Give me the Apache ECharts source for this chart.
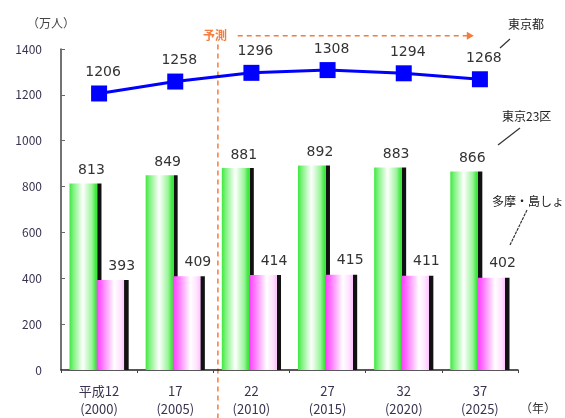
<!DOCTYPE html>
<html>
<head>
<meta charset="utf-8">
<script src="https://cdn.jsdelivr.net/npm/echarts@6/dist/echarts.min.js"></script>
<style>
  html, body { margin: 0; padding: 0; background: #fff; }
  #chart { width: 565px; height: 418px; }
</style>
</head>
<body>
<div id="chart"></div>
<script>
// 年（和暦＋西暦）
var categories = ["平成12\n(2000)", "17\n(2005)", "22\n(2010)", "27\n(2015)", "32\n(2020)", "37\n(2025)"];
// 東京都 合計（万人）
var tokyoTotal = [1206, 1258, 1296, 1308, 1294, 1268];
// 東京23区
var ku23 = [813, 849, 881, 892, 883, 866];
// 多摩・島しょ
var tamaIslands = [393, 409, 414, 415, 411, 402];
var yTicks = { min: 0, max: 1400, interval: 200 };
// 予測区間（カテゴリ単位の位置）
var forecastStart = 2.06;
var forecastArrow = [2.32, 5.42];

var font = '"Noto Sans CJK JP", "DejaVu Sans", sans-serif';
var orange = "#f47c3c";
var numStyle = { color: "#333", fontSize: 14, fontFamily: "DejaVu Sans" };

var myChart = echarts.init(document.getElementById("chart"));

myChart.setOption({
	animation: false,
	textStyle: { fontFamily: font },
	grid: { left: 61, right: 47, top: 49, bottom: 47 },
	xAxis: [
		{
			type: "category",
			data: categories,
			axisLine: { lineStyle: { color: "#222", width: 1.5 } },
			axisTick: { show: true, length: 3, lineStyle: { color: "#444" } },
			axisLabel: { color: "#3a3350", fontSize: 13, lineHeight: 18, margin: 12 },
			name: "（年）",
			nameLocation: "end",
			nameGap: 2,
			nameTextStyle: { color: "#333", fontSize: 12, verticalAlign: "top", padding: [32, 0, 0, 0] },
		},
		{
			// 補助軸：予測区分線の位置用
			type: "value",
			min: 0,
			max: 6,
			show: false,
		},
	],
	yAxis: {
		type: "value",
		min: yTicks.min,
		max: yTicks.max,
		interval: yTicks.interval,
		splitLine: { show: false },
		axisLine: { show: true, lineStyle: { color: "#444", width: 1.5 } },
		axisTick: { show: true, inside: true, length: 4, lineStyle: { color: "#666" } },
		axisLabel: {
			color: "#3a3350",
			fontSize: 12,
			margin: 19,
			formatter: function (v) {
				return String(v);
			},
		},
		name: "（万人）",
		nameLocation: "end",
		nameGap: 20,
		nameTextStyle: { color: "#444", fontSize: 12, align: "right", padding: [0, -14, 0, 0] },
	},
	series: [
		{
			name: "東京23区",
			type: "bar",
			data: ku23,
			barWidth: 32,
			barGap: "-15%",
			itemStyle: {
				color: new echarts.graphic.LinearGradient(0, 0, 1, 0, [
					{ offset: 0, color: "#3ee83e" },
					{ offset: 0.12, color: "#7ef27e" },
					{ offset: 0.42, color: "#ffffff" },
					{ offset: 0.7, color: "#9af59a" },
					{ offset: 0.82, color: "#3ee83e" },
					{ offset: 0.87, color: "#3ee83e" },
					{ offset: 0.88, color: "#111" },
					{ offset: 1, color: "#111" },
				]),
			},
			label: Object.assign({ show: true, position: "top", distance: 6, offset: [6, 0] }, numStyle),
		},
		{
			name: "多摩・島しょ",
			type: "bar",
			data: tamaIslands,
			barWidth: 32,
			z: 3,
			itemStyle: {
				color: new echarts.graphic.LinearGradient(0, 0, 1, 0, [
					{ offset: 0, color: "#ff3cff" },
					{ offset: 0.15, color: "#ff6cff" },
					{ offset: 0.55, color: "#ffffff" },
					{ offset: 0.75, color: "#ffe2ff" },
					{ offset: 0.84, color: "#ffc8ff" },
					{ offset: 0.86, color: "#ffc8ff" },
					{ offset: 0.87, color: "#111" },
					{ offset: 1, color: "#111" },
				]),
			},
			label: Object.assign({ show: true, position: "top", distance: 7, offset: [9, 0] }, numStyle),
		},
		{
			name: "東京都",
			type: "line",
			data: tokyoTotal,
			z: 5,
			symbol: "rect",
			symbolSize: 16,
			lineStyle: { color: "#0000ff", width: 3 },
			itemStyle: { color: "#0000ff" },
			label: Object.assign({ show: true, position: "top", distance: 6, offset: [4, 0] }, numStyle),
		},
	],
});

// 予測区分の破線・矢印（補助軸の位置から計算）
var lineTop = myChart.convertToPixel({ xAxisIndex: 1, yAxisIndex: 0 }, [forecastStart, 1420]);
var arrowA = myChart.convertToPixel({ xAxisIndex: 1, yAxisIndex: 0 }, [forecastArrow[0], 1458]);
var arrowB = myChart.convertToPixel({ xAxisIndex: 1, yAxisIndex: 0 }, [forecastArrow[1], 1458]);
var dash = { stroke: orange, lineWidth: 1.5, lineDash: [5, 4] };

myChart.setOption({
	graphic: [
		{ type: "line", silent: true, shape: { x1: lineTop[0], y1: lineTop[1], x2: lineTop[0], y2: 418 }, style: dash },
		{ type: "line", silent: true, shape: { x1: arrowA[0], y1: arrowA[1], x2: arrowB[0] - 6, y2: arrowB[1] }, style: dash },
		{
			type: "polygon",
			silent: true,
			shape: { points: [[arrowB[0] - 7, arrowB[1] - 4], [arrowB[0], arrowB[1]], [arrowB[0] - 7, arrowB[1] + 4]] },
			style: { fill: orange },
		},
		{
			type: "text",
			silent: true,
			x: lineTop[0] - 3,
			y: arrowA[1],
			style: { text: "予測", fill: orange, font: "bold 12px " + font, align: "center", verticalAlign: "middle" },
		},
		{ type: "text", left: 508, top: 18, style: { text: "東京都", fill: "#222", font: "12px " + font } },
		{ type: "line", shape: { x1: 510, y1: 39, x2: 500, y2: 48 }, style: { stroke: "#333", lineWidth: 1.2 } },
		{ type: "text", left: 502, top: 110, style: { text: "東京23区", fill: "#222", font: "12px " + font } },
		{ type: "line", shape: { x1: 520, y1: 128, x2: 498, y2: 145 }, style: { stroke: "#333", lineWidth: 1.2 } },
		{ type: "text", left: 492, top: 195, style: { text: "多摩・島しょ", fill: "#222", font: "12px " + font } },
		{ type: "line", shape: { x1: 527, y1: 210, x2: 510, y2: 245 }, style: { stroke: "#333", lineWidth: 1.2, lineDash: [3, 1] } },
	],
});
</script>
</body>
</html>
